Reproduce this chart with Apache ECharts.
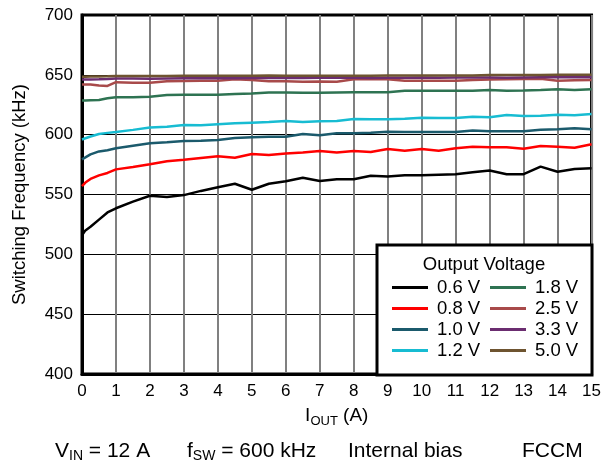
<!DOCTYPE html>
<html>
<head>
<meta charset="utf-8">
<script src="https://cdn.jsdelivr.net/npm/echarts@6/dist/echarts.min.js"></script>
<style>
  html, body { margin: 0; padding: 0; background: #fff; }
  #chart { width: 604px; height: 465px; }
</style>
</head>
<body>
<div id="chart"></div>
<script>
// output current (A) at which each curve was sampled
const iout = [0, 0.1, 0.25, 0.5, 0.75, 1, 1.5, 2, 2.5, 3, 3.5, 4, 4.5, 5, 5.5, 6, 6.5, 7, 7.5,
  8, 8.5, 9, 9.5, 10, 10.5, 11, 11.5, 12, 12.5, 13, 13.5, 14, 14.5, 15];

// switching frequency (kHz) per output voltage
const f06 = [516, 520, 523, 529, 535, 538.5, 544, 549, 548, 549.5, 553, 556, 559, 554, 559, 561, 564, 561.3, 562.7,
  562.7, 565.7, 565, 566, 566, 566.5, 567, 568.5, 570, 567, 567, 573.3, 569, 571.3, 572];
const f08 = [557, 560, 563, 566, 568, 571, 573, 575.3, 577.8, 579, 580.5, 582, 580.7, 583.8, 583, 584.2, 585, 586.3, 585,
  586.4, 585.6, 588, 586.6, 588, 586.6, 588.6, 590, 589.5, 589.5, 588.3, 590.6, 590, 589, 592];
const f10 = [579.4, 581, 583.5, 586, 587, 588.6, 590.8, 592.8, 593.6, 594.7, 595, 595.6, 597.2, 597.8, 598.3, 598.3, 600.5, 599.5, 601.2,
  601.2, 601.7, 602.5, 602.3, 602.3, 602.2, 602.3, 603.4, 602.8, 602.8, 602.8, 604.2, 604.5, 605.3, 604.5];
const f12 = [596, 597, 598.5, 600.5, 601.5, 602.3, 604, 605.9, 606.7, 608, 607.8, 608.7, 609.5, 610, 610.5, 611.4, 610.5, 611.3, 611.4,
  613.1, 612.9, 612.9, 613.4, 614.2, 614, 614, 615, 614.5, 616.5, 615.6, 615.9, 616.7, 616.2, 617.3];
const f18 = [628.5, 628.6, 628.8, 629, 630.5, 631.3, 631.3, 631.6, 633.2, 633.3, 633.3, 633.4, 634, 634.3, 635.3, 635.2, 635, 635, 635.2,
  635.4, 635.4, 635.4, 636.6, 636.6, 636.8, 636.6, 636.8, 637.4, 636.8, 637, 637.4, 637.9, 637.4, 637.9];
const f25 = [642, 642, 642, 641, 640.7, 643.9, 643.4, 643.4, 644.6, 644.9, 645, 645.1, 646.3, 645.7, 644.6, 644.6, 644.3, 644.5, 644.3,
  646.3, 646.3, 646.3, 645.1, 645.1, 645.1, 645.1, 645.7, 646, 646.3, 646.5, 646.8, 645.1, 645.5, 645.7];
const f33 = [646, 646, 646.2, 646.3, 646.5, 647, 647, 646.8, 647, 647.2, 647.2, 647.3, 647.2, 647.4, 647.4, 647.5, 647.3, 647.5, 647.5,
  647.6, 647.4, 647.6, 647.6, 647.7, 647.5, 647.7, 647.8, 647.8, 647.6, 647.8, 647.9, 647.9, 648, 648];
const f50 = [648.5, 648.5, 648.6, 648.7, 648.8, 649, 649, 649, 649, 649.2, 649.2, 649.2, 649.3, 649.3, 649.5, 649.3, 649.3, 649.3, 649.3,
  649.3, 649.3, 649.5, 649.5, 649.5, 649.5, 649.5, 649.5, 649.8, 649.8, 649.8, 649.8, 650, 650, 650];

const names = ['0.6 V', '0.8 V', '1.0 V', '1.2 V', '1.8 V', '2.5 V', '3.3 V', '5.0 V'];
const values = [f06, f08, f10, f12, f18, f25, f33, f50];
const colors = ['#000000', '#ff0000', '#1b5a6c', '#17bcd2', '#2e7352', '#a84a4a', '#6b2d70', '#6e5430'];

const FONT = 'Liberation Sans, Arial, sans-serif';

const chart = echarts.init(document.getElementById('chart'), null, { renderer: 'canvas' });

const series = names.map((n, k) => ({
  name: n,
  type: 'line',
  data: iout.map((x, i) => [x, values[k][i]]),
  showSymbol: false,
  symbol: 'none',
  lineStyle: { width: 2.5, color: colors[k] },
  itemStyle: { color: colors[k] },
  z: 2 + k,
  animation: false
}));

const legendBase = {
  orient: 'vertical',
  icon: 'rect',
  itemWidth: 36,
  itemHeight: 3,
  itemGap: 2,
  top: 278,
  padding: 0,
  z: 10,
  textStyle: { fontFamily: FONT, fontSize: 18.5, lineHeight: 19, color: '#000', padding: [0, 0, 0, 4] }
};

const sub = (size) => ({ fontFamily: FONT, fontSize: size, lineHeight: 12, verticalAlign: 'bottom', color: '#000' });
const main = (size) => ({ fontFamily: FONT, fontSize: size, lineHeight: 24, color: '#000' });

chart.setOption({
  animation: false,
  backgroundColor: '#fff',
  grid: {
    left: 82, right: 12, top: 15, bottom: 91,
    show: true, borderColor: '#000', borderWidth: 3, backgroundColor: 'transparent'
  },
  legend: [
    Object.assign({}, legendBase, { left: 392, data: names.slice(0, 4) }),
    Object.assign({}, legendBase, { left: 490, data: names.slice(4) })
  ],
  xAxis: {
    type: 'value', min: 0, max: 15, interval: 1,
    name: '{a|I}{s|OUT}{a| (A)}',
    nameLocation: 'middle',
    nameGap: 30,
    nameTextStyle: { rich: { a: main(19), s: sub(13) } },
    axisLine: { show: true, lineStyle: { color: '#000', width: 3 } },
    axisTick: { show: false },
    axisLabel: { fontFamily: FONT, fontSize: 17, color: '#000', margin: 9 },
    splitLine: { show: true, lineStyle: { color: '#808080', width: 2 } }
  },
  yAxis: {
    type: 'value', min: 400, max: 700, interval: 50,
    name: 'Switching Frequency (kHz)',
    nameLocation: 'middle',
    nameGap: 53,
    nameTextStyle: { fontFamily: FONT, fontSize: 18.5, color: '#000' },
    axisLine: { show: true, lineStyle: { color: '#000', width: 3 } },
    axisTick: { show: false },
    axisLabel: { fontFamily: FONT, fontSize: 17, color: '#000', margin: 9 },
    splitLine: { show: true, lineStyle: { color: '#000', width: 1 } }
  },
  graphic: [
    // legend frame and heading
    { type: 'rect', z: 8, shape: { x: 377, y: 245, width: 215, height: 130 },
      style: { fill: '#fff', stroke: '#000', lineWidth: 3 } },
    { type: 'text', z: 9, x: 484, y: 265,
      style: { text: 'Output Voltage', font: '18.5px ' + FONT, fill: '#000', align: 'center', verticalAlign: 'middle' } },
    // test conditions under the chart
    { type: 'text', left: 55, top: 441,
      style: { text: '{a|V}{s|IN}{a| = 12 A}', rich: { a: main(21), s: sub(14) } } },
    { type: 'text', left: 187, top: 441,
      style: { text: '{a|f}{s|SW}{a| = 600 kHz}', rich: { a: main(21), s: sub(14) } } },
    { type: 'text', left: 348, top: 441,
      style: { text: '{a|Internal bias}', rich: { a: main(21) } } },
    { type: 'text', left: 522, top: 441,
      style: { text: '{a|FCCM}', rich: { a: main(21) } } }
  ],
  series
});
</script>
</body>
</html>
